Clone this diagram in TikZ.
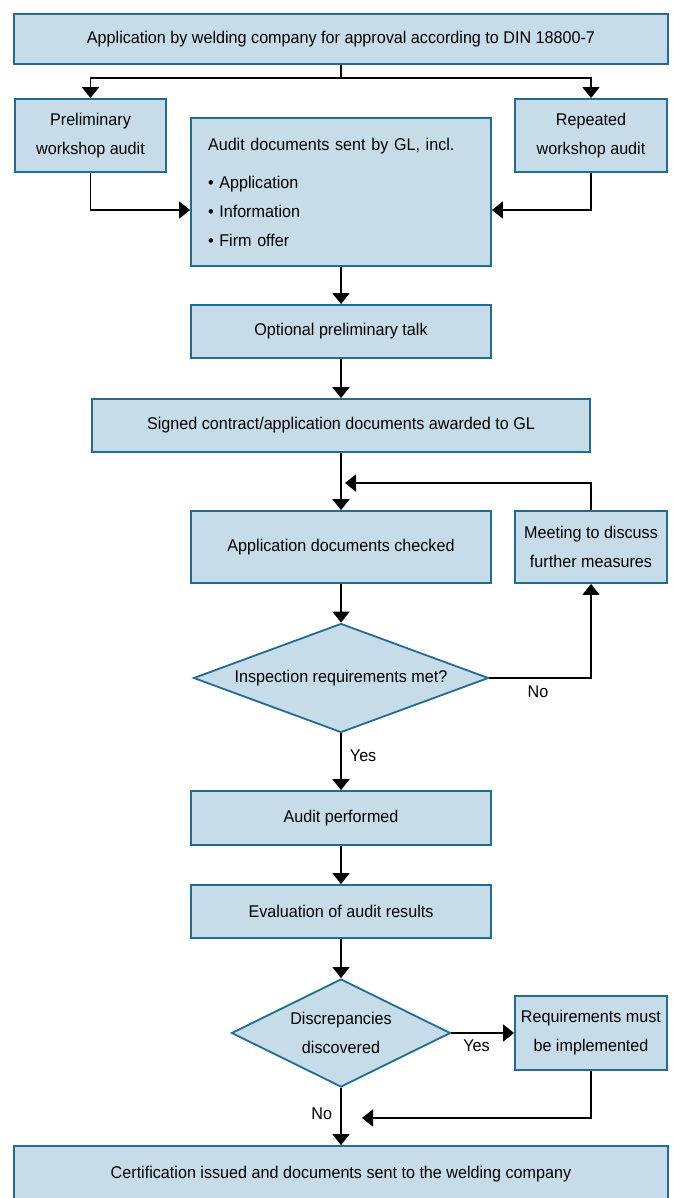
\documentclass[tikz,border=0pt]{standalone}
\usepackage{fontspec}
\setmainfont{Liberation Sans}[FakeStretch=0.95]
\usetikzlibrary{shapes.geometric,arrows.meta}
\definecolor{boxfill}{HTML}{C6DCE8}
\definecolor{boxline}{HTML}{1F6D94}
\begin{document}
\begin{tikzpicture}
            [x=1pt, y=-1pt,
            font={\fontsize{17}{29}\selectfont},
            box/.style={rectangle, draw=boxline, fill=boxfill, line width=1.8pt, align=center, inner sep=0pt},
            decision/.style={diamond, draw=boxline, fill=boxfill, line width=1.8pt, align=center, inner sep=0pt},
            arrow/.style={line width=1.9pt, black, -{Triangle[width=17pt, length=11pt]}},
            edge/.style={line width=1.9pt, black},
            label/.style={inner sep=0pt}]

            \path[use as bounding box, clip] (0,0) rectangle (672,1198);

            \node[box, minimum width=654, minimum height=50] (apply) at (341,39) {Application by welding company for approval according to DIN 18800-7};
            \node[box, minimum width=151, minimum height=73] (prelim) at (90.5,135.5) {Preliminary\\workshop audit};
            \node[box, minimum width=152, minimum height=73] (repeat) at (591,135.5) {Repeated\\workshop audit};
            \node[box, minimum width=300, minimum height=148, align=left, text width=266] (docs) at (341,192) {Audit documents sent by GL, incl.\\[9pt] • Application\\ • Information\\ • Firm offer};
            \node[box, minimum width=300, minimum height=53] (talk) at (341,331.5) {Optional preliminary talk};
            \node[box, minimum width=498, minimum height=53] (contract) at (341,425.5) {Signed contract/application documents awarded to GL};
            \node[box, minimum width=300, minimum height=72] (checked) at (341,547) {Application documents checked};
            \node[box, minimum width=152, minimum height=72] (meeting) at (591,547) {Meeting to discuss\\further measures};
            \node[decision, aspect=2.7, minimum width=295, minimum height=109] (inspect) at (341,678) {Inspection requirements met?};
            \node[box, minimum width=300, minimum height=54] (audit) at (341,818) {Audit performed};
            \node[box, minimum width=300, minimum height=53] (eval) at (341,911.5) {Evaluation of audit results};
            \node[decision, aspect=2.03, minimum width=219, minimum height=108] (discrep) at (341,1033) {Discrepancies\\discovered};
            \node[box, minimum width=152, minimum height=74] (require) at (591,1033) {Requirements must\\be implemented};
            \node[box, minimum width=654, minimum height=90] (cert) at (341,1191) {};
            \node (certtext) at (341,1174) {Certification issued and documents sent to the welding company};

            % Free ends of the two return lines
            \coordinate (loopin) at (345,483);
            \coordinate (reqin) at (362,1118);

            % Top branch
            \draw[edge] (apply.south) -- (341,78) coordinate (split);
            \draw[arrow] (split) -| (prelim.north);
            \draw[arrow] (split) -| (repeat.north);
            \draw[arrow] (prelim.south) |- ([yshift=-18pt]docs.west);
            \draw[arrow] (repeat.south) |- ([yshift=-18pt]docs.east);

            % Main line
            \draw[arrow] (docs) -- (talk);
            \draw[arrow] (talk) -- (contract);
            \draw[arrow] (contract) -- (checked);
            \draw[arrow] (checked) -- (inspect);
            \draw[arrow] (inspect) -- (audit) node[label, pos=0.4, right=8pt] {Yes};
            \draw[arrow] (audit) -- (eval);
            \draw[arrow] (eval) -- (discrep);
            \draw[arrow] (discrep) -- (cert) node[label, pos=0.45, left=8pt] {No};

            % Loops
            \draw[arrow] (inspect.east) -| (meeting.south);
            \node[label] at (538,692) {No};
            \draw[arrow] (meeting.north) |- (loopin);
            \draw[arrow] (discrep.east) -- (require.west) node[label, pos=0.4, below=6pt] {Yes};
            \draw[arrow] (require.south) |- (reqin);

        \end{tikzpicture}
\end{document}
